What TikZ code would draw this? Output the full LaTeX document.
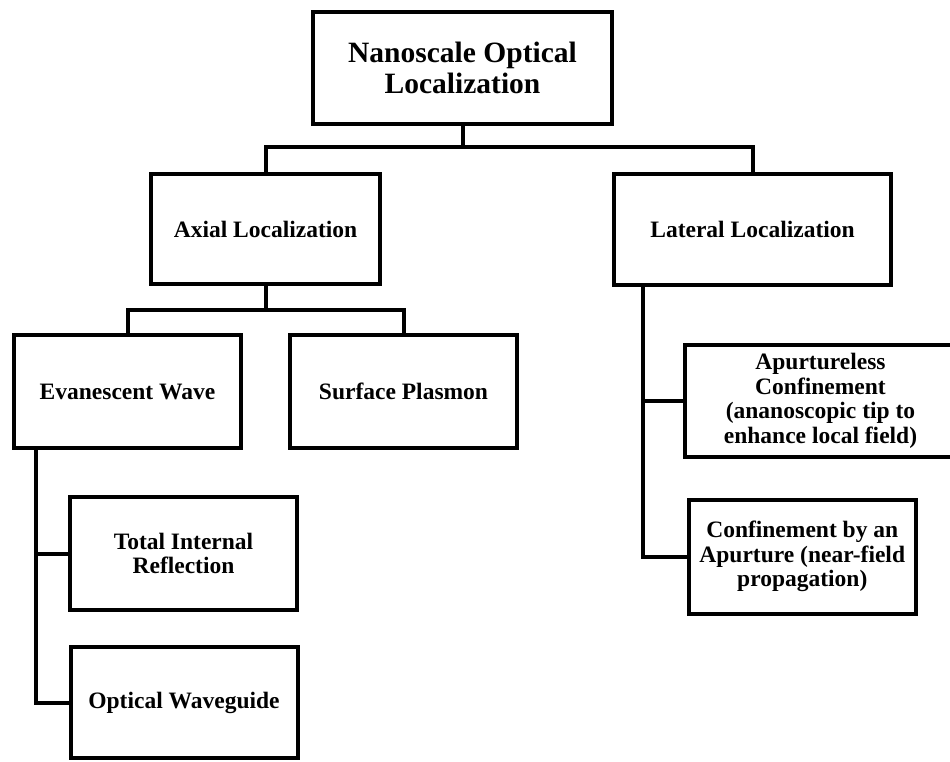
\documentclass[tikz,border=0pt]{standalone}
\usepackage{fontspec}
\setmainfont{Liberation Serif}
\newcommand\fsbody{\fontsize{23.5}{24.5}\selectfont\bfseries}
\newcommand\fstitle{\fontsize{29.5}{31}\selectfont\bfseries}
\tikzset{
  box/.style={draw=black, line width=4pt, align=center, inner sep=0pt, font=\fsbody, text=black},
  conn/.style={draw=black, line width=4pt, line join=miter, line cap=rect}
}
\begin{document}
\begin{tikzpicture}[x=1pt, y=-1pt]
\useasboundingbox (0,0) rectangle (950,761);
\fill[white] (0,0) rectangle (950,761);
\clip (0,0) rectangle (950,761);

\node[box, font=\fstitle, minimum width=299pt, minimum height=112pt] (top) at (462.5,68) {Nanoscale Optical\\Localization};
\node[box, minimum width=229pt, minimum height=110pt] (axial) at (265.5,229) {Axial Localization};
\node[box, minimum width=277pt, minimum height=111pt] (lateral) at (752.5,229.5) {Lateral Localization};
\node[box, minimum width=227pt, minimum height=113pt] (evan) at (127.5,391.5) {Evanescent Wave};
\node[box, minimum width=227pt, minimum height=113pt] (surf) at (403.5,391.5) {Surface Plasmon};
\node[box, minimum width=227pt, minimum height=113pt] (tir) at (183.5,553.5) {Total Internal\\Reflection};
\node[box, minimum width=227pt, minimum height=111pt] (owg) at (184,702.5) {Optical Waveguide};
\node[box, minimum width=271pt, minimum height=112pt] (apl) at (820.5,401) {Apurtureless\\Confinement\\(ananoscopic tip to\\enhance local field)};
\node[box, minimum width=227.5pt, minimum height=113.5pt] (conf) at (802.25,556.75) {Confinement by an\\Apurture (near-field\\propagation)};

\coordinate (j1) at (462.5,147);
\coordinate (j2) at (265.5,310);
\coordinate (ev) at (36,450);
\coordinate (lv) at (642.5,287);

\draw[conn] (top.south) -- (j1);
\draw[conn] (axial.north) |- (j1) -| (lateral.north);
\draw[conn] (axial.south) -- (j2);
\draw[conn] (evan.north) |- (j2) -| (surf.north);
\draw[conn] (ev) |- (tir.west);
\draw[conn] (ev) |- (owg.west);
\draw[conn] (lv) |- (apl.west);
\draw[conn] (lv) |- (conf.west);
\end{tikzpicture}
\end{document}
